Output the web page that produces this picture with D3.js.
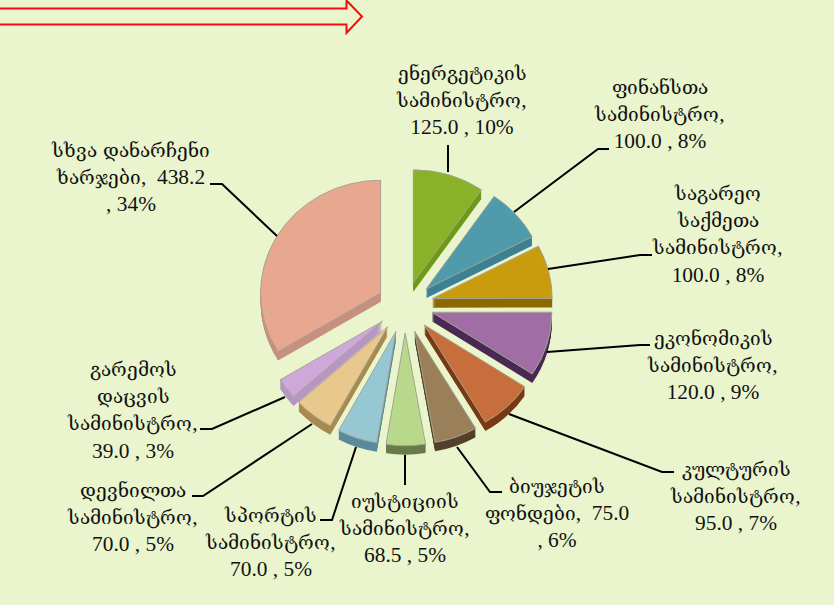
<!DOCTYPE html>
<html>
<head>
  <meta charset="utf-8">
  <style>
    /* georgian glyphs come out too wide at the digits' size */
    @font-face {
      font-family: "GeoSerif";
      src: local("DejaVu Serif");
      unicode-range: U+10A0-10FF;
      size-adjust: 88%;
    }
    html, body { margin: 0; padding: 0; background: #eaf5ce; overflow: hidden; }
    text { font-family: "GeoSerif", "Liberation Serif", "DejaVu Serif", serif; font-size: 21.4px; fill: #111; text-anchor: middle; }
  </style>
</head>
<body>
  <svg id="chart"></svg>
  <script src="https://cdn.jsdelivr.net/npm/d3@7"></script>
  <script>
    var width = 834, height = 605;

    // data
    var values = [125.0, 100.0, 100.0, 120.0, 95.0, 75.0, 68.5, 70.0, 70.0, 39.0, 438.2];
    var labelLines = [
      ["ენერგეტიკის", "სამინისტრო,", "125.0 , 10%"],
      ["ფინანსთა", "სამინისტრო,", "100.0 , 8%"],
      ["საგარეო", "საქმეთა", "სამინისტრო,", "100.0 , 8%"],
      ["ეკონომიკის", "სამინისტრო,", "120.0 , 9%"],
      ["კულტურის", "სამინისტრო,", "95.0 , 7%"],
      ["ბიუჯეტის", "ფონდები,  75.0", ", 6%"],
      ["იუსტიციის", "სამინისტრო,", "68.5 , 5%"],
      ["სპორტის", "სამინისტრო,", "70.0 , 5%"],
      ["დევნილთა", "სამინისტრო,", "70.0 , 5%"],
      ["გარემოს", "დაცვის", "სამინისტრო,", "39.0 , 3%"],
      ["სხვა დანარჩენი", "ხარჯები,  438.2", ", 34%"]
    ];
    var topColors = ["#8ab228", "#4f9aab", "#c89c0c", "#a06ea4", "#c86e3c", "#9a8058", "#b8d88c", "#96c8d4", "#e8c88c", "#cea8d8", "#e8a890"];
    var sideColors = ["#6e9a14", "#3d8194", "#8c6a00", "#4a2a55", "#7a3a14", "#54412a", "#6a7a4a", "#5a8a9e", "#a88a50", "#b896c4", "#c89080"];

    // label placement: centre x, first baseline, line step
    var labelX = [462, 660, 718, 713, 736, 557, 405, 271, 133, 133, 131];
    var labelY = [80, 94, 200, 345, 476, 493, 508, 522, 497, 376, 157];
    var lineStep = 27.2;

    // leader lines, label end first
    var leaders = [
      [[448, 145], [448, 172]],
      [[609, 149], [598, 149], [514, 212]],
      [[652, 255], [640, 255], [548, 269]],
      [[650, 345], [640, 345], [547, 352]],
      [[674, 472], [662, 472], [509, 414]],
      [[502, 492], [490, 492], [457, 447]],
      [[405, 485], [405, 455]],
      [[320, 520], [332, 520], [356, 447]],
      [[192, 496], [203, 496], [312, 424]],
      [[200, 429], [212, 429], [285, 397]],
      [[210, 184], [222, 184], [277, 236]]
    ];

    var cx = 405, cy = 304;
    var radius = 120, tilt = 0.94, explode = 28, depth = 9;

    var svg = d3.select("#chart").attr("width", width).attr("height", height);

    // red arrow at the top
    svg.append("path")
      .attr("d", "M-5,8.5H346.5V0.5L362,16.5L346.5,33V24.5H-5")
      .attr("fill", "none")
      .attr("stroke", "#fb0a0a")
      .attr("stroke-width", 2);

    var pie = d3.pie().sort(null).value(function(d){ return d; });
    var arc = d3.arc().innerRadius(0).outerRadius(radius);
    var arcs = pie(values);

    // reversed so each slice's side falls on top of the next one
    var slices = svg.append("g").selectAll("g")
      .data(arcs.slice().reverse())
      .enter().append("g")
      .attr("transform", function(d){
        var mid = (d.startAngle + d.endAngle) / 2;
        var up = explode * tilt * Math.cos(mid);
        // the 3d view pulls back slices in and pushes front slices out
        up *= up > 0 ? 0.85 : 1.1;
        return "translate(" + (cx + explode * Math.sin(mid)) + "," + (cy - up) + ") scale(1," + tilt + ")";
      });

    slices.each(function(d){
      var g = d3.select(this);
      g.selectAll("path.side")
        .data(d3.range(depth, 0, -1))
        .enter().append("path")
        .attr("class", "side")
        .attr("d", arc(d))
        .attr("transform", function(i){ return "translate(0," + (i / tilt) + ")"; })
        .attr("fill", sideColors[d.index]);
      g.append("path")
        .attr("d", arc(d))
        .attr("fill", topColors[d.index])
        .attr("stroke", "#a3a593")
        .attr("stroke-width", 1);
    });

    var line = d3.line();
    svg.append("g").selectAll("path")
      .data(leaders)
      .enter().append("path")
      .attr("d", line)
      .attr("fill", "none")
      .attr("stroke", "#000")
      .attr("stroke-width", 2);

    var labels = svg.append("g").selectAll("text")
      .data(labelLines)
      .enter().append("text")
      .attr("y", function(d, i){ return labelY[i]; });
    labels.selectAll("tspan")
      .data(function(d, i){
        return d.map(function(t, j){ return {text: t, x: labelX[i], y: labelY[i] + j * lineStep}; });
      })
      .enter().append("tspan")
      .attr("x", function(d){ return d.x; })
      .attr("y", function(d){ return d.y; })
      .attr("xml:space", "preserve")
      .text(function(d){ return d.text; });
  </script>
</body>
</html>
